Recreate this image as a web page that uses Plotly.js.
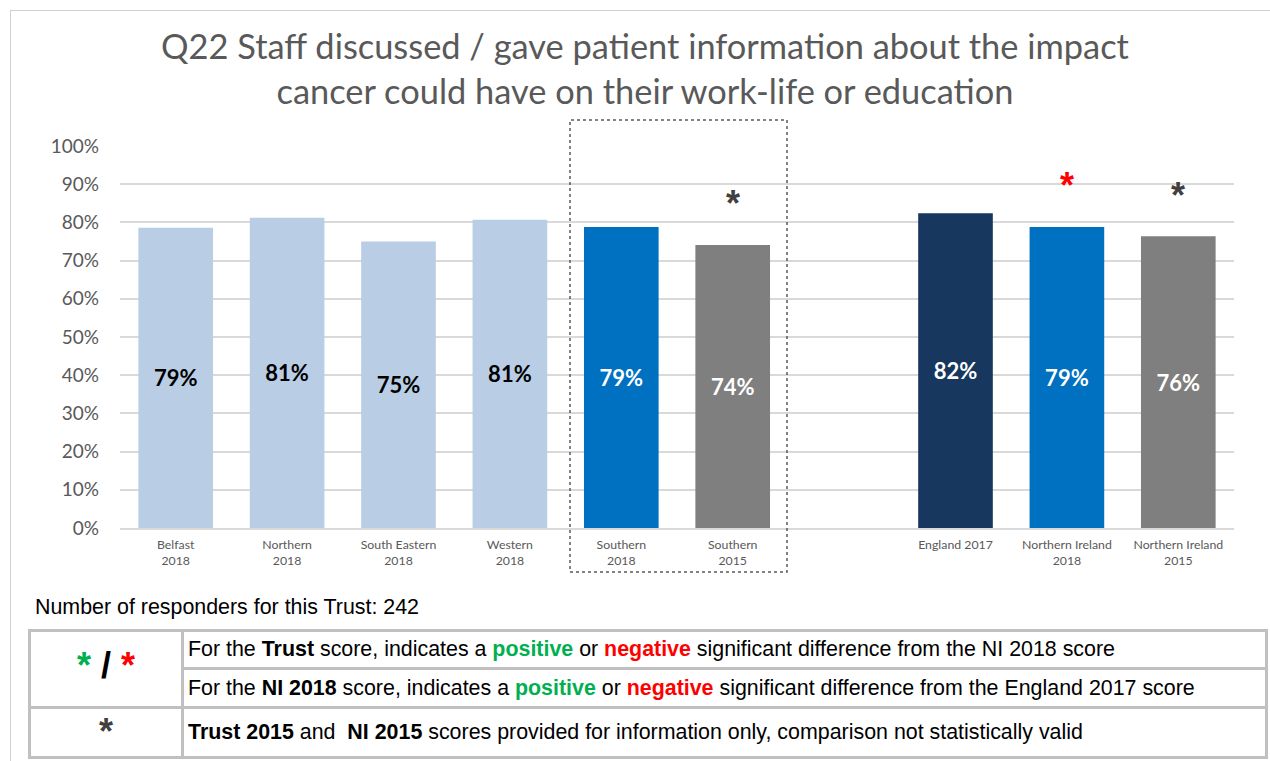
<!DOCTYPE html>
<html>
<head>
<meta charset="utf-8">
<script src="https://cdn.plot.ly/plotly-3.0.1.min.js"></script>
<style>
  html, body { margin: 0; padding: 0; background: #fff; }
  #wrap { position: relative; width: 1270px; height: 761px; overflow: hidden; }
  #chart { position: absolute; left: 0; top: 0; width: 1270px; height: 761px; }
  #frame { position: absolute; left: 10px; top: 10px; width: 1270px; height: 800px; border: 1px solid #d0d0d0; box-sizing: border-box; pointer-events: none; }
  #resp { position: absolute; left: 35px; top: 595px; font-family: "Liberation Sans", Arial, sans-serif; font-size: 21.4px; color: #000; }
  #key { position: absolute; left: 28px; top: 629px; width: 1240px; border-collapse: collapse; font-family: "Liberation Sans", Arial, sans-serif; font-size: 21.4px; color: #000; }
  #key td { border: 3px solid #c0c0c0; padding: 0 0 0 4px; white-space: nowrap; }
  #key td.sym { width: 150px; text-align: center; padding: 0; font-weight: bold; font-size: 36px; line-height: 1; }
  .g { color: #00b050; font-weight: bold; }
  .r { color: #ff0000; font-weight: bold; }
</style>
</head>
<body>
<div id="wrap">
  <div id="chart"></div>
  <div id="frame"></div>
  <div id="resp"></div>
  <table id="key"></table>
</div>
<script>
// ---- data ----
const categories = ['Belfast<br>2018', 'Northern<br>2018', 'South Eastern<br>2018', 'Western<br>2018',
  'Southern<br>2018', 'Southern<br>2015', ' ', 'England 2017', 'Northern Ireland<br>2018', 'Northern Ireland<br>2015'];
const values = [78.6, 81.2, 75.0, 80.7, 78.8, 74.1, null, 82.4, 78.8, 76.4];
const barColors = ['#b9cde5', '#b9cde5', '#b9cde5', '#b9cde5', '#0070c0', '#7f7f7f', '#ffffff', '#17375e', '#0070c0', '#7f7f7f'];
const labelColors = ['#000000', '#000000', '#000000', '#000000', '#ffffff', '#ffffff', '#ffffff', '#ffffff', '#ffffff', '#ffffff'];
const sigMarks = ['', '', '', '', '', '*', '', '', '*', '*'];
const sigColors = ['', '', '', '', '', '#404040', '', '', '#ff0000', '#404040'];
const titleText = 'Q22 Staff discussed / gave patient information about the impact<br>cancer could have on their work-life or education';
const responders = 242;

// ---- chart ----
const labels = values.map(v => v == null ? '' : Math.round(v) + '%');

const trace = {
  type: 'bar',
  x: categories,
  y: values,
  marker: { color: barColors },
  text: labels,
  texttemplate: '<b>%{text}</b>',
  textposition: 'inside',
  insidetextanchor: 'middle',
  textangle: 0,
  constraintext: 'none',
  textfont: { family: 'Lato, sans-serif', size: 22, color: labelColors },
  hoverinfo: 'skip'
};

const annotations = [];
categories.forEach((c, i) => {
  if (sigMarks[i]) {
    annotations.push({
      x: c, y: values[i], xref: 'x', yref: 'y',
      text: '<b>' + sigMarks[i] + '</b>',
      showarrow: false, yanchor: 'middle', yshift: 41,
      font: { family: 'Liberation Sans, Arial, sans-serif', size: 36, color: sigColors[i] }
    });
  }
});

const L = 120, R = 36, T = 146, B = 233, W = 1270, H = 761;
const pw = W - L - R, ph = H - T - B;

const layout = {
  width: W, height: H,
  margin: { l: L, r: R, t: T, b: B },
  paper_bgcolor: 'rgba(0,0,0,0)',
  plot_bgcolor: 'rgba(0,0,0,0)',
  showlegend: false,
  bargap: 0.33,
  title: {
    text: titleText,
    font: { family: 'Lato, sans-serif', size: 34.4, color: '#595959' },
    x: 645 / W, xref: 'container', xanchor: 'center',
    y: 1 - 59 / H, yref: 'container', yanchor: 'middle'
  },
  xaxis: {
    type: 'category',
    categoryorder: 'array', categoryarray: categories,
    tickfont: { family: 'Lato, sans-serif', size: 12.3, color: '#595959' },
    showline: true, linecolor: '#d9d9d9', linewidth: 2,
    ticks: '', showgrid: false, fixedrange: true, ticklabelstandoff: 4
  },
  yaxis: {
    range: [0, 100], dtick: 10, ticksuffix: '%',
    tickfont: { family: 'Lato, sans-serif', size: 19, color: '#595959' },
    gridcolor: '#d9d9d9', gridwidth: 2,
    zeroline: false, ticks: '', ticklabelstandoff: 20, fixedrange: true
  },
  shapes: [{
    type: 'rect', xref: 'paper', yref: 'paper',
    x0: (570 - L) / pw, x1: (787 - L) / pw,
    y0: (528 - 572) / ph, y1: (528 - 120) / ph,
    line: { color: '#595959', width: 1.5, dash: 'dot' }
  }],
  annotations: annotations
};

Plotly.newPlot('chart', [trace], layout, { displayModeBar: false, staticPlot: true });

// ---- footer ----
document.getElementById('resp').textContent = 'Number of responders for this Trust: ' + responders;
document.getElementById('key').innerHTML =
  '<tr style="height:38px"><td class="sym" rowspan="2" style="padding-bottom:6px"><span class="g">*</span> / <span class="r">*</span></td>' +
  '<td>For the <b>Trust</b> score, indicates a <span class="g">positive</span> or <span class="r">negative</span> significant difference from the NI 2018 score</td></tr>' +
  '<tr style="height:39px"><td>For the <b>NI 2018</b> score, indicates a <span class="g">positive</span> or <span class="r">negative</span> significant difference from the England 2017 score</td></tr>' +
  '<tr style="height:50px"><td class="sym" style="padding-bottom:2px"><span style="color:#404040">*</span></td>' +
  '<td><b>Trust 2015</b> and &nbsp;<b>NI 2015</b> scores provided for information only, comparison not statistically valid</td></tr>';
</script>
</body>
</html>
